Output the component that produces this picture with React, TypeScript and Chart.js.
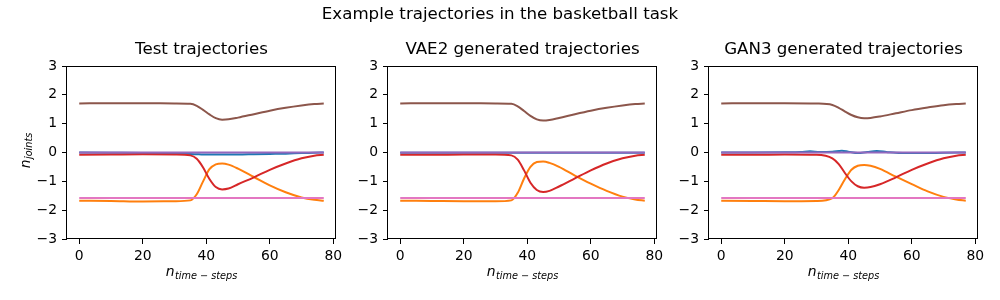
import React, { useEffect, useRef } from "react";
import { Chart, registerables } from "chart.js";

Chart.register(...registerables);

// ---------- data ----------
const suptitle = "Example trajectories in the basketball task";
const panelTitles = ["Test trajectories", "VAE2 generated trajectories", "GAN3 generated trajectories"];
const xTicks = [0, 20, 40, 60, 80];
const yTicks = [-3, -2, -1, 0, 1, 2, 3];
const xLabelMain = "n";
const xLabelSub = "time \u2212 steps";
const yLabelMain = "n";
const yLabelSub = "joints";

const steps = [0, 10, 20, 30, 35, 37, 39, 41, 43, 45, 47, 50, 55, 60, 65, 70, 74, 77];
const gan3BlueSteps = [0, 10, 20, 25, 28, 31, 35, 38, 40, 43, 46, 49, 52, 55, 60, 70, 77];

const seriesColors = ["#1f77b4", "#ff7f0e", "#d62728", "#9467bd", "#8c564b", "#e377c2"];

// Test trajectories
const testBlue = [0, -0.01, -0.02, -0.04, -0.05, -0.06, -0.07, -0.07, -0.07, -0.07, -0.07, -0.07, -0.06, -0.05, -0.04, -0.02, -0.01, 0];
const testOrange = [-1.67, -1.68, -1.7, -1.69, -1.66, -1.45, -1.0, -0.58, -0.41, -0.38, -0.42, -0.56, -0.85, -1.14, -1.38, -1.56, -1.64, -1.67];
const testRed = [-0.08, -0.07, -0.06, -0.07, -0.1, -0.22, -0.52, -0.92, -1.2, -1.28, -1.25, -1.1, -0.86, -0.6, -0.38, -0.2, -0.11, -0.08];
const testPurple = [0, 0, 0, 0, 0, 0, 0, 0, 0, 0, 0, 0, 0, 0, 0, 0, 0, 0];
const testBrown = [1.7, 1.71, 1.71, 1.7, 1.69, 1.62, 1.48, 1.32, 1.19, 1.14, 1.15, 1.21, 1.33, 1.45, 1.55, 1.63, 1.68, 1.7];
const testPink = [-1.58, -1.58, -1.58, -1.58, -1.58, -1.58, -1.58, -1.58, -1.58, -1.58, -1.58, -1.58, -1.58, -1.58, -1.58, -1.58, -1.58, -1.58];

// VAE2 generated
const vaeBlue = [-0.01, -0.01, -0.01, -0.01, -0.01, -0.01, -0.01, -0.01, -0.01, -0.01, -0.01, -0.01, -0.01, -0.01, -0.01, -0.01, -0.01, -0.01];
const vaeOrange = [-1.67, -1.68, -1.69, -1.69, -1.66, -1.4, -0.9, -0.5, -0.33, -0.31, -0.36, -0.5, -0.8, -1.08, -1.33, -1.53, -1.63, -1.67];
const vaeRed = [-0.08, -0.08, -0.07, -0.07, -0.1, -0.25, -0.62, -1.05, -1.3, -1.37, -1.33, -1.18, -0.9, -0.62, -0.38, -0.2, -0.11, -0.08];
const vaePurple = [0, 0, 0, 0, 0, 0, 0, 0, 0, 0, 0, 0, 0, 0, 0, 0, 0, 0];
const vaeBrown = [1.7, 1.71, 1.71, 1.7, 1.69, 1.6, 1.44, 1.27, 1.15, 1.11, 1.13, 1.2, 1.33, 1.45, 1.55, 1.63, 1.68, 1.7];
const vaePink = [-1.58, -1.58, -1.58, -1.58, -1.58, -1.58, -1.58, -1.58, -1.58, -1.58, -1.58, -1.58, -1.58, -1.58, -1.58, -1.58, -1.58, -1.58];

// GAN3 generated
const ganBlue = [0, 0, 0.01, 0.02, 0.04, 0.02, 0.03, 0.06, 0.03, -0.02, 0.02, 0.05, 0.02, -0.01, -0.02, -0.01, 0];
const ganOrange = [-1.67, -1.68, -1.69, -1.68, -1.58, -1.3, -0.92, -0.6, -0.46, -0.43, -0.46, -0.57, -0.84, -1.1, -1.35, -1.54, -1.63, -1.67];
const ganRed = [-0.08, -0.08, -0.07, -0.08, -0.2, -0.4, -0.72, -1.0, -1.17, -1.22, -1.2, -1.1, -0.86, -0.6, -0.38, -0.2, -0.11, -0.08];
const ganPurple = [0, 0, 0, 0, 0, 0, 0, 0, 0, 0, 0, 0, 0, 0, 0, 0, 0, 0];
const ganBrown = [1.7, 1.71, 1.71, 1.7, 1.65, 1.55, 1.42, 1.3, 1.22, 1.19, 1.2, 1.25, 1.36, 1.47, 1.56, 1.64, 1.68, 1.7];
const ganPink = [-1.58, -1.58, -1.58, -1.58, -1.58, -1.58, -1.58, -1.58, -1.58, -1.58, -1.58, -1.58, -1.58, -1.58, -1.58, -1.58, -1.58, -1.58];

type Series = { x: number[]; y: number[] };
const panels: Series[][] = [
  [
    { x: steps, y: testBlue },
    { x: steps, y: testOrange },
    { x: steps, y: testRed },
    { x: steps, y: testPurple },
    { x: steps, y: testBrown },
    { x: steps, y: testPink },
  ],
  [
    { x: steps, y: vaeBlue },
    { x: steps, y: vaeOrange },
    { x: steps, y: vaeRed },
    { x: steps, y: vaePurple },
    { x: steps, y: vaeBrown },
    { x: steps, y: vaePink },
  ],
  [
    { x: gan3BlueSteps, y: ganBlue },
    { x: steps, y: ganOrange },
    { x: steps, y: ganRed },
    { x: steps, y: ganPurple },
    { x: steps, y: ganBrown },
    { x: steps, y: ganPink },
  ],
];

// ---------- layout ----------
const W = 1000;
const H = 300;
const PANEL_LEFT = [67, 388, 709];
const PANEL_W = 269;
const AX_TOP = 66;
const AX_BOTTOM = 239;
const Y_AXIS_W = 40;
const X_AXIS_H = 40;
const FONT = "'DejaVu Sans', sans-serif";

function fmtTick(v: number) {
  return v < 0 ? "\u2212" + Math.abs(v) : String(v);
}

function drawMath(ctx: CanvasRenderingContext2D, main: string, sub: string, cx: number, baseline: number) {
  ctx.font = `italic 13.9px ${FONT}`;
  const w1 = ctx.measureText(main).width;
  ctx.font = `italic 9.7px ${FONT}`;
  const w2 = ctx.measureText(sub).width;
  const total = w1 + 0.5 + w2;
  const x0 = cx - total / 2;
  ctx.textAlign = "left";
  ctx.textBaseline = "alphabetic";
  ctx.font = `italic 13.9px ${FONT}`;
  ctx.fillText(main, x0, baseline);
  ctx.font = `italic 9.7px ${FONT}`;
  ctx.fillText(sub, x0 + w1 + 0.5, baseline + 2.7);
}

function makePlugin(idx: number) {
  return {
    id: "decor" + idx,
    afterDatasetsDraw(chart: any) {
      const { ctx, chartArea } = chart;
      ctx.save();
      ctx.strokeStyle = "#000";
      ctx.lineWidth = 1;
      const l = Math.round(chartArea.left) - 0.5;
      const t = Math.round(chartArea.top) + 0.5;
      const r = Math.round(chartArea.right) - 0.5;
      const b = Math.round(chartArea.bottom) - 0.5;
      ctx.strokeRect(l, t, r - l, b - t);
      ctx.restore();
    },
    afterDraw(chart: any) {
      const { ctx, chartArea } = chart;
      const cx = (chartArea.left + chartArea.right) / 2;
      ctx.save();
      ctx.fillStyle = "#000";
      ctx.textAlign = "center";
      ctx.textBaseline = "alphabetic";
      ctx.font = `16.67px ${FONT}`;
      ctx.fillText(panelTitles[idx], cx, 53.5);
      if (idx === 0) {
        ctx.fillText(suptitle, W / 2, 18.5);
      }
      drawMath(ctx, xLabelMain, xLabelSub, cx, 276);
      if (idx === 0) {
        ctx.translate(29.5, 150.5);
        ctx.rotate(-Math.PI / 2);
        drawMath(ctx, yLabelMain, yLabelSub, 0, 0);
      }
      ctx.restore();
    },
  };
}

function makeConfig(series: Series[], idx: number): any {
  const left = PANEL_LEFT[idx];
  const right = left + PANEL_W;
  const tickFont = { family: FONT, size: 13.9 };
  return {
    type: "line",
    data: {
      datasets: series.map((s, i) => ({
        label: "joint " + (i + 1),
        data: s.x.map((x, j) => ({ x, y: s.y[j] })),
        borderColor: seriesColors[i],
        backgroundColor: seriesColors[i],
        borderWidth: 2,
        pointRadius: 0,
        fill: false,
        cubicInterpolationMode: "monotone",
        order: series.length - i,
      })),
    },
    options: {
      animation: false,
      responsive: false,
      devicePixelRatio: 1,
      layout: {
        padding: {
          left: left - Y_AXIS_W,
          right: W - right,
          top: AX_TOP,
          bottom: H - AX_BOTTOM - X_AXIS_H,
        },
      },
      plugins: {
        legend: { display: false },
        tooltip: { enabled: false },
        title: { display: false },
      },
      scales: {
        x: {
          type: "linear",
          min: -3.85,
          max: 80.85,
          afterBuildTicks: (s: any) => {
            s.ticks = xTicks.map((v) => ({ value: v }));
          },
          afterFit: (s: any) => {
            s.height = X_AXIS_H;
          },
          grid: { drawOnChartArea: false, drawTicks: true, tickLength: 5, color: "#000", tickColor: "#000", tickWidth: 1 },
          border: { display: false },
          ticks: { font: tickFont, color: "#000", padding: 4, maxRotation: 0, autoSkip: false, callback: (v: number) => fmtTick(v) },
        },
        y: {
          type: "linear",
          min: -3,
          max: 3,
          afterBuildTicks: (s: any) => {
            s.ticks = yTicks.map((v) => ({ value: v }));
          },
          afterFit: (s: any) => {
            s.width = Y_AXIS_W;
          },
          grid: { drawOnChartArea: false, drawTicks: true, tickLength: 5, color: "#000", tickColor: "#000", tickWidth: 1 },
          border: { display: false },
          ticks: { font: tickFont, color: "#000", padding: 5, autoSkip: false, callback: (v: number) => fmtTick(v) },
        },
      },
    },
    plugins: [makePlugin(idx)],
  };
}

export default function App() {
  const r0 = useRef<HTMLCanvasElement>(null);
  const r1 = useRef<HTMLCanvasElement>(null);
  const r2 = useRef<HTMLCanvasElement>(null);
  const refs = [r0, r1, r2];

  useEffect(() => {
    const charts = panels.map((p, i) => new Chart(refs[i].current as HTMLCanvasElement, makeConfig(p, i)));
    return () => charts.forEach((c) => c.destroy());
  }, []);

  return (
    <div style={{ position: "fixed", left: 0, top: 0, width: W, height: H, background: "#fff" }}>
      {panels.map((_, i) => (
        <canvas
          key={i}
          ref={refs[i]}
          width={W}
          height={H}
          style={{ position: "absolute", left: 0, top: 0, width: W, height: H }}
        />
      ))}
    </div>
  );
}
